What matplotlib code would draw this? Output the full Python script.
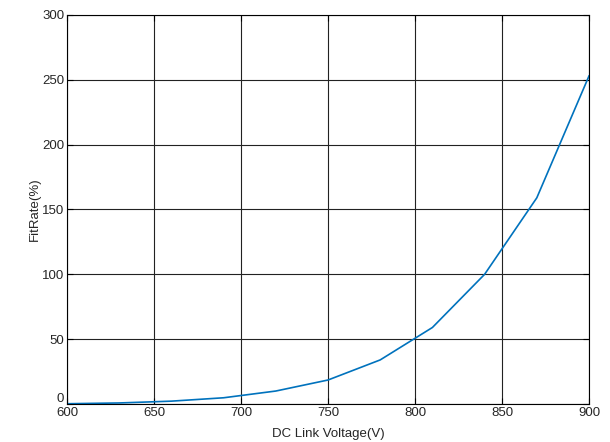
import numpy as np
import matplotlib.pyplot as plt
import matplotlib.transforms as mtransforms

plt.rcParams['font.family'] = ['Liberation Sans', 'DejaVu Sans']

voltage = [600, 630, 660, 690, 720, 750, 780, 810, 840, 870, 900]
fit_rate = [0.2, 0.8, 2.2, 4.8, 10, 18.5, 34, 59, 100, 159, 253]

fig = plt.figure(figsize=(6.1, 4.42), dpi=100)
ax = fig.add_axes([67 / 610, 1 - 404 / 442, (589 - 67) / 610, (404 - 15) / 442])

ax.plot(voltage, fit_rate, color='#0072BD', linewidth=1.2)
ax.set_xlim(600, 900)
ax.set_ylim(0, 300)
ax.set_xticks(np.arange(600, 901, 50))
ax.set_yticks(np.arange(0, 301, 50))
ax.grid(True, color='#222222', linewidth=0.8)
ax.tick_params(direction='in', labelsize=9.5, length=4, top=True, right=True,
               pad=2, labelcolor='#262626')
for s in ax.spines.values():
    s.set_linewidth(0.8)
ax.set_xlabel('DC Link Voltage(V)', fontsize=9.5, labelpad=7, color='#262626')
ax.set_ylabel('FitRate(%)', fontsize=9.5, labelpad=1, color='#262626')

# raise the "0" label so it clears the x tick labels
zero_lab = ax.get_yticklabels()[0]
zero_lab.set_transform(zero_lab.get_transform() +
                       mtransforms.ScaledTranslation(0, 6 / 100, fig.dpi_scale_trans))

fig.savefig('out.png', dpi=100)
